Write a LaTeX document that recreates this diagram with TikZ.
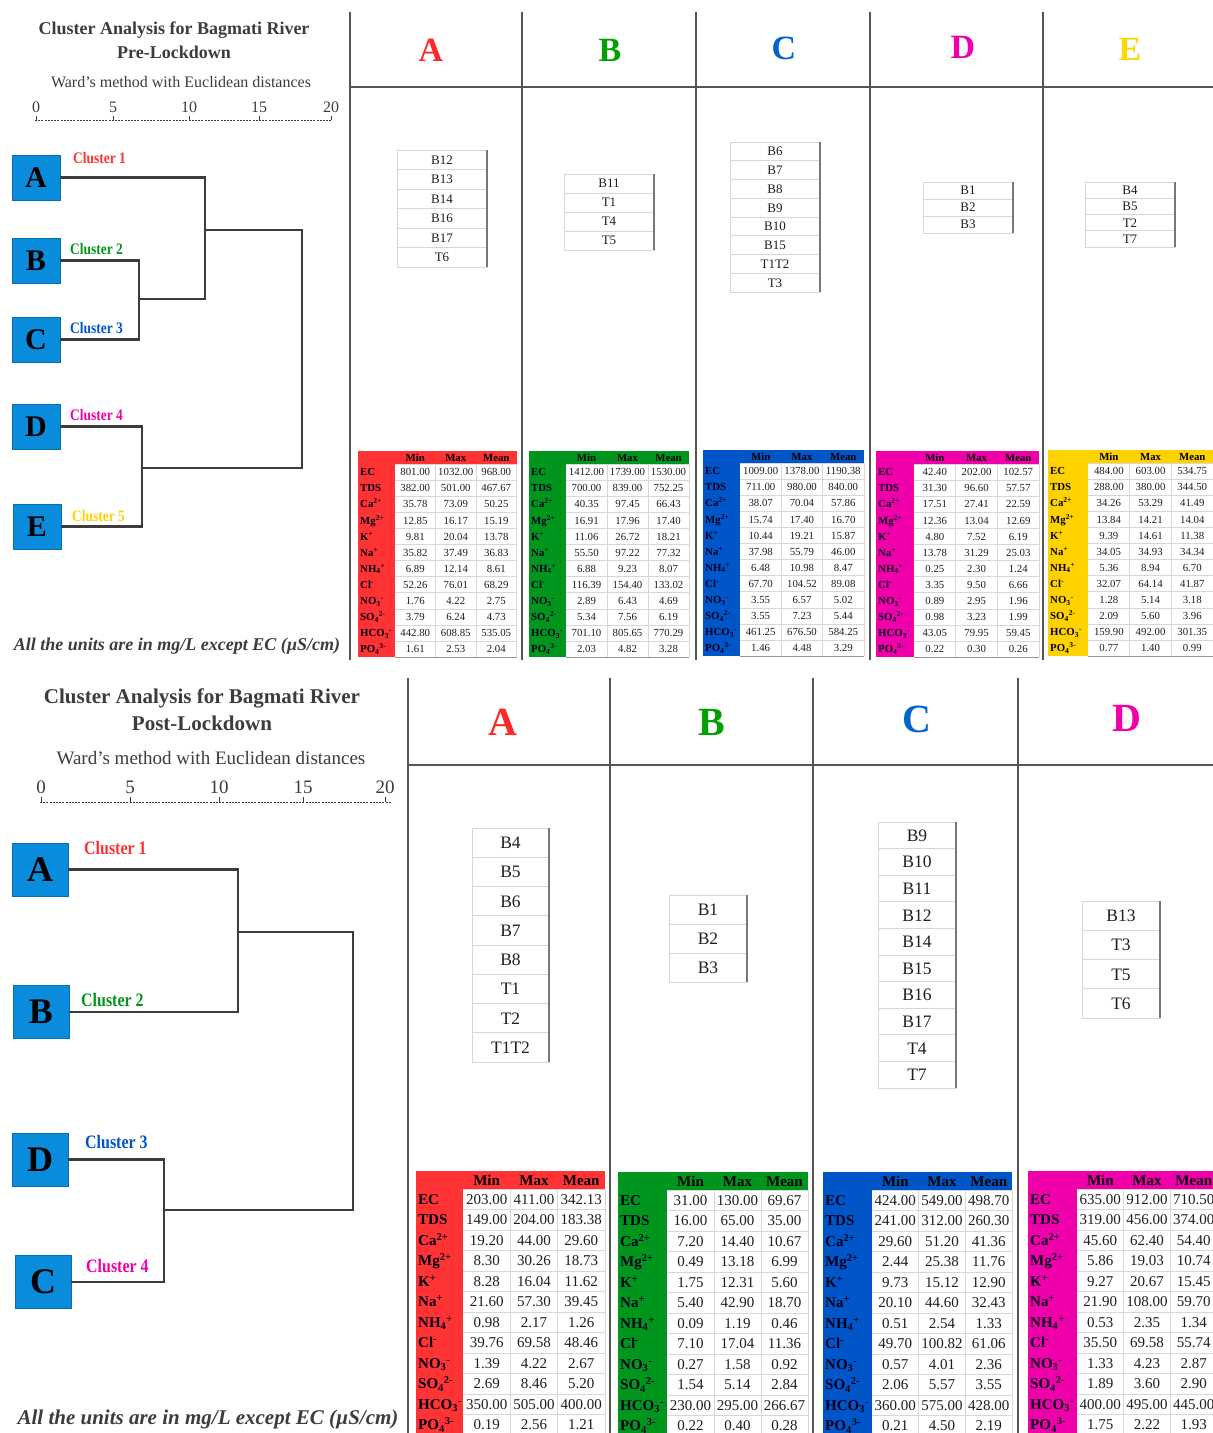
\documentclass[tikz,border=0pt]{standalone}
\usepackage{fontspec}
\setmainfont{Liberation Serif}
\definecolor{cred}{RGB}{255,51,51}
\definecolor{cgreen}{RGB}{0,150,30}
\definecolor{cblue}{RGB}{0,85,200}
\definecolor{cmag}{RGB}{240,0,170}
\definecolor{cyel}{RGB}{255,210,0}
\definecolor{lred}{RGB}{255,40,40}
\definecolor{lgreen}{RGB}{0,160,0}
\definecolor{lblue}{RGB}{0,102,204}
\definecolor{lmag}{RGB}{240,0,170}
\definecolor{lyel}{RGB}{255,215,0}
\definecolor{boxblue}{RGB}{10,140,220}
\definecolor{ink}{RGB}{60,60,60}
\definecolor{gridc}{RGB}{215,215,215}
\definecolor{divc}{RGB}{85,85,85}
\definecolor{txt}{RGB}{30,30,30}

\newcommand\ionlabel[1]{\ifcase#1\or EC\or TDS\or Ca\textsuperscript{2+}\or Mg\textsuperscript{2+}\or K\textsuperscript{+}\or Na\textsuperscript{+}\or NH\textsubscript{4}\textsuperscript{+}\or Cl\textsuperscript{-}\or NO\textsubscript{3}\textsuperscript{-}\or SO\textsubscript{4}\textsuperscript{2-}\or HCO\textsubscript{3}\textsuperscript{-}\or PO\textsubscript{4}\textsuperscript{3-}\fi}

% #1 x, #2 y, #3 label col width, #4 col width, #5 header h, #6 row h, #7 colour, #8 font size, #9 rows
\newcommand\datatable[9]{%
\begin{scope}[shift={(#1,#2)}]
\fill[#7] (0,0) rectangle ({#3+3*#4},#5);
\fill[#7] (0,#5) rectangle (#3,{#5+12*#6});
\foreach \k in {0,...,12} \draw[gridc,line width=0.8pt] (#3,{#5+\k*#6}) -- ({#3+3*#4},{#5+\k*#6});
\foreach \k in {1,2,3} \draw[gridc,line width=0.8pt] ({#3+\k*#4},#5) -- ({#3+\k*#4},{#5+12*#6});
\draw[gridc!70!black,line width=0.8pt] (#3,{#5+12*#6}) -- ({#3+3*#4},{#5+12*#6});
\node[hdr,font=\fontsize{#8}{#8}\selectfont\bfseries] at ({#3+0.5*#4},{0.5*#5+0.34*#8}) {Min};
\node[hdr,font=\fontsize{#8}{#8}\selectfont\bfseries] at ({#3+1.5*#4},{0.5*#5+0.34*#8}) {Max};
\node[hdr,font=\fontsize{#8}{#8}\selectfont\bfseries] at ({#3+2.5*#4},{0.5*#5+0.34*#8}) {Mean};
\foreach \a/\b/\c [count=\i] in {#9}{
 \node[lab,font=\fontsize{#8}{#8}\selectfont\bfseries] at (2,{#5+(\i-0.5)*#6+0.34*#8}) {\ionlabel{\i}};
 \node[cellv,font=\fontsize{#8}{#8}\selectfont] at ({#3+0.5*#4},{#5+(\i-0.5)*#6+0.34*#8}) {\a};
 \node[cellv,font=\fontsize{#8}{#8}\selectfont] at ({#3+1.5*#4},{#5+(\i-0.5)*#6+0.34*#8}) {\b};
 \node[cellv,font=\fontsize{#8}{#8}\selectfont] at ({#3+2.5*#4},{#5+(\i-0.5)*#6+0.34*#8}) {\c};
}
\end{scope}}

% #1 x, #2 y, #3 width, #4 row h, #5 font size, #6 count, #7 items
\newcommand\stationlist[7]{%
\foreach \s [count=\i] in {#7}{
 \draw[gridc,line width=0.8pt] (#1,{#2+(\i-1)*#4}) rectangle ({#1+#3},{#2+\i*#4});
 \node[cellv,font=\fontsize{#5}{#5}\selectfont] at ({#1+0.5*#3},{#2+(\i-0.5)*#4+0.34*#5}) {\s};
}
\draw[divc!80,line width=1.3pt] ({#1+#3},#2) -- ({#1+#3},{#2+#6*#4});
}

\tikzset{
 hdr/.style={anchor=base,inner sep=0pt,text=black},
 lab/.style={anchor=base west,inner sep=0pt,text=black!90!blue},
 cellv/.style={anchor=base,inner sep=0pt,text=txt},
 dend/.style={draw=ink,line width=2.2pt},
 divider/.style={draw=divc,line width=1.8pt},
 clbox/.style={fill=boxblue,draw=boxblue!80!black,line width=0.4pt,inner sep=0pt,text=black},
 scaleline/.style={draw=ink,line width=1pt,dash pattern=on 2pt off 1.2pt},
 tick/.style={draw=ink,line width=0.8pt},
}

\begin{document}
\begin{tikzpicture}[x=1pt,y=-1pt]
\clip (0,0) rectangle (1213,1433);
\fill[white] (0,0) rectangle (1213,1433);

% ================= TOP PANEL =================
\node[font=\fontsize{18}{18}\selectfont\bfseries,text=ink] (t1) at (174,30) {Cluster Analysis for Bagmati River};
\node[font=\fontsize{18}{18}\selectfont\bfseries,text=ink] (t2) at (174,52) {Pre-Lockdown};
\node[font=\fontsize{16}{16}\selectfont,text=ink] (t3) at (181,82) {Ward’s method with Euclidean distances};
\foreach \v/\px in {0/36,5/113,10/189,15/259,20/331}{
 \node[font=\fontsize{16}{16}\selectfont,text=ink] (sc\v) at (\px,107) {\v};
 \draw[tick] (\px,120) -- (\px,116);
}
\draw[scaleline] (35,120) -- (332,120);

\node[clbox,minimum width=48pt,minimum height=45pt,font=\fontsize{30}{30}\selectfont\bfseries] (bA) at (36,177.5) {A};
\node[clbox,minimum width=48pt,minimum height=45pt,font=\fontsize{30}{30}\selectfont\bfseries] (bB) at (36,260.5) {B};
\node[clbox,minimum width=48pt,minimum height=45pt,font=\fontsize{30}{30}\selectfont\bfseries] (bC) at (36,339.5) {C};
\node[clbox,minimum width=48pt,minimum height=45pt,font=\fontsize{30}{30}\selectfont\bfseries] (bD) at (36,426.5) {D};
\node[clbox,minimum width=48pt,minimum height=45pt,font=\fontsize{30}{30}\selectfont\bfseries] (bE) at (37,526.5) {E};

\node[anchor=west,inner sep=0pt,text=cred,font=\fontsize{16}{16}\selectfont\bfseries] (c1) at (73,158) {\scalebox{0.84}[1]{Cluster 1}};
\node[anchor=west,inner sep=0pt,text=cgreen,font=\fontsize{16}{16}\selectfont\bfseries] (c2) at (70,249) {\scalebox{0.84}[1]{Cluster 2}};
\node[anchor=west,inner sep=0pt,text=cblue,font=\fontsize{16}{16}\selectfont\bfseries] (c3) at (70,328) {\scalebox{0.84}[1]{Cluster 3}};
\node[anchor=west,inner sep=0pt,text=cmag,font=\fontsize{16}{16}\selectfont\bfseries] (c4) at (70,415) {\scalebox{0.84}[1]{Cluster 4}};
\node[anchor=west,inner sep=0pt,text=cyel,font=\fontsize{16}{16}\selectfont\bfseries] (c5) at (72,516) {\scalebox{0.84}[1]{Cluster 5}};

\coordinate (jBC) at (139,299);
\coordinate (kA) at (205,299);
\coordinate (jABC) at (205,230);
\coordinate (jDE) at (142,468);
\coordinate (kR) at (302,468);
\draw[dend] (bB.east) -| (jBC) |- (bC.east);
\draw[dend] (bA.east) -| (kA) -- (jBC);
\draw[dend] (bD.east) -| (jDE) |- (bE.east);
\draw[dend] (jABC) -| (kR) -- (jDE);

\node[font=\fontsize{18}{18}\selectfont\bfseries\itshape,text=ink] (f1) at (177,646) {All the units are in mg/L except EC (µS/cm)};

% dividers
\draw[divider] (350,12) -- (350,660);
\foreach \dx in {522,696,870,1043} \draw[divider] (\dx,12) -- (\dx,660);
\draw[divider] (350,87) -- (1213,87);

\node[font=\fontsize{34}{34}\selectfont\bfseries,text=lred] (hA) at (431,50) {A};
\node[font=\fontsize{34}{34}\selectfont\bfseries,text=lgreen] (hB) at (610,50) {B};
\node[font=\fontsize{34}{34}\selectfont\bfseries,text=lblue] (hC) at (784,48) {C};
\node[font=\fontsize{34}{34}\selectfont\bfseries,text=lmag] (hD) at (963,47) {D};
\node[font=\fontsize{34}{34}\selectfont\bfseries,text=lyel] (hE) at (1130,49) {E};

\stationlist{397}{150}{90}{19.5}{13}{6}{B12,B13,B14,B16,B17,T6}
\stationlist{564}{174}{90}{19}{13}{4}{B11,T1,T4,T5}
\stationlist{730}{142}{90}{18.75}{13}{8}{B6,B7,B8,B9,B10,B15,T1T2,T3}
\stationlist{923}{182}{90}{17}{13}{3}{B1,B2,B3}
\stationlist{1085}{182}{90}{16.25}{13}{4}{B4,B5,T2,T7}

\datatable{358}{451}{37}{40.5}{13}{16.1}{cred}{10.8}{801.00/1032.00/968.00, 382.00/501.00/467.67, 35.78/73.09/50.25, 12.85/16.17/15.19, 9.81/20.04/13.78, 35.82/37.49/36.83, 6.89/12.14/8.61, 52.26/76.01/68.29, 1.76/4.22/2.75, 3.79/6.24/4.73, 442.80/608.85/535.05, 1.61/2.53/2.04}
\datatable{529}{451}{37}{41}{13}{16.1}{cgreen}{10.8}{1412.00/1739.00/1530.00, 700.00/839.00/752.25, 40.35/97.45/66.43, 16.91/17.96/17.40, 11.06/26.72/18.21, 55.50/97.22/77.32, 6.88/9.23/8.07, 116.39/154.40/133.02, 2.89/6.43/4.69, 5.34/7.56/6.19, 701.10/805.65/770.29, 2.03/4.82/3.28}
\datatable{703}{450}{37}{41.3}{13}{16.1}{cblue}{10.8}{1009.00/1378.00/1190.38, 711.00/980.00/840.00, 38.07/70.04/57.86, 15.74/17.40/16.70, 10.44/19.21/15.87, 37.98/55.79/46.00, 6.48/10.98/8.47, 67.70/104.52/89.08, 3.55/6.57/5.02, 3.55/7.23/5.44, 461.25/676.50/584.25, 1.46/4.48/3.29}
\datatable{876}{451}{38}{41.7}{13}{16.1}{cmag}{10.8}{42.40/202.00/102.57, 31.30/96.60/57.57, 17.51/27.41/22.59, 12.36/13.04/12.69, 4.80/7.52/6.19, 13.78/31.29/25.03, 0.25/2.30/1.24, 3.35/9.50/6.66, 0.89/2.95/1.96, 0.98/3.23/1.99, 43.05/79.95/59.45, 0.22/0.30/0.26}
\datatable{1048}{450}{40}{41.7}{13}{16.1}{cyel}{10.8}{484.00/603.00/534.75, 288.00/380.00/344.50, 34.26/53.29/41.49, 13.84/14.21/14.04, 9.39/14.61/11.38, 34.05/34.93/34.34, 5.36/8.94/6.70, 32.07/64.14/41.87, 1.28/5.14/3.18, 2.09/5.60/3.96, 159.90/492.00/301.35, 0.77/1.40/0.99}

% ================= BOTTOM PANEL =================
\node[font=\fontsize{21}{21}\selectfont\bfseries,text=ink] (u1) at (202,698) {Cluster Analysis for Bagmati River};
\node[font=\fontsize{21}{21}\selectfont\bfseries,text=ink] (u2) at (202,723) {Post-Lockdown};
\node[font=\fontsize{19}{19}\selectfont,text=ink] (u3) at (211,758) {Ward’s method with Euclidean distances};
\foreach \v/\px in {0/41,5/130,10/219,15/303,20/385}{
 \node[font=\fontsize{19}{19}\selectfont,text=ink] (sd\v) at (\px,787) {\v};
 \draw[tick] (\px,802) -- (\px,797);
}
\draw[scaleline] (40,802) -- (392,802);

\node[clbox,minimum width=56pt,minimum height=53pt,font=\fontsize{36}{36}\selectfont\bfseries] (dA) at (40,869.5) {A};
\node[clbox,minimum width=56pt,minimum height=53pt,font=\fontsize{36}{36}\selectfont\bfseries] (dB) at (41,1012) {B};
\node[clbox,minimum width=56pt,minimum height=53pt,font=\fontsize{36}{36}\selectfont\bfseries] (dD) at (40,1159.5) {D};
\node[clbox,minimum width=56pt,minimum height=53pt,font=\fontsize{36}{36}\selectfont\bfseries] (dC) at (43,1282) {C};

\node[anchor=west,inner sep=0pt,text=cred,font=\fontsize{19}{19}\selectfont\bfseries] (e1) at (84,848) {\scalebox{0.84}[1]{Cluster 1}};
\node[anchor=west,inner sep=0pt,text=cgreen,font=\fontsize{19}{19}\selectfont\bfseries] (e2) at (81,1000) {\scalebox{0.84}[1]{Cluster 2}};
\node[anchor=west,inner sep=0pt,text=cblue,font=\fontsize{19}{19}\selectfont\bfseries] (e3) at (85,1142) {\scalebox{0.84}[1]{Cluster 3}};
\node[anchor=west,inner sep=0pt,text=cmag,font=\fontsize{19}{19}\selectfont\bfseries] (e4) at (86,1266) {\scalebox{0.84}[1]{Cluster 4}};

\coordinate (jAB2) at (238,932);
\coordinate (jDC2) at (164,1210);
\coordinate (kR2) at (353,1210);
\draw[dend] (dA.east) -| (jAB2) |- (dB.east);
\draw[dend] (dD.east) -| (jDC2) |- (dC.east);
\draw[dend] (jAB2) -| (kR2) -- (jDC2);

\node[font=\fontsize{21}{21}\selectfont\bfseries\itshape,text=ink] (f2) at (208,1419) {All the units are in mg/L except EC (µS/cm)};

\draw[divider] (408,678) -- (408,1433);
\foreach \dx in {610,813,1018} \draw[divider] (\dx,678) -- (\dx,1433);
\draw[divider] (408,765) -- (1213,765);

\node[font=\fontsize{40}{40}\selectfont\bfseries,text=lred] (gA) at (503,722) {A};
\node[font=\fontsize{40}{40}\selectfont\bfseries,text=lgreen] (gB) at (712,722) {B};
\node[font=\fontsize{40}{40}\selectfont\bfseries,text=lblue] (gC) at (917,719) {C};
\node[font=\fontsize{40}{40}\selectfont\bfseries,text=lmag] (gD) at (1127,718) {D};

\stationlist{472}{828}{77}{29.25}{17.5}{8}{B4,B5,B6,B7,B8,T1,T2,T1T2}
\stationlist{669}{895}{78}{29}{17.5}{3}{B1,B2,B3}
\stationlist{878}{822}{78}{26.6}{17.5}{10}{B9,B10,B11,B12,B14,B15,B16,B17,T4,T7}
\stationlist{1082}{901}{78}{29.25}{17.5}{4}{B13,T3,T5,T6}

\datatable{416}{1171}{47}{47.3}{18}{20.5}{cred}{15}{203.00/411.00/342.13, 149.00/204.00/183.38, 19.20/44.00/29.60, 8.30/30.26/18.73, 8.28/16.04/11.62, 21.60/57.30/39.45, 0.98/2.17/1.26, 39.76/69.58/48.46, 1.39/4.22/2.67, 2.69/8.46/5.20, 350.00/505.00/400.00, 0.19/2.56/1.21}
\datatable{618}{1172}{49}{47}{18}{20.5}{cgreen}{15}{31.00/130.00/69.67, 16.00/65.00/35.00, 7.20/14.40/10.67, 0.49/13.18/6.99, 1.75/12.31/5.60, 5.40/42.90/18.70, 0.09/1.19/0.46, 7.10/17.04/11.36, 0.27/1.58/0.92, 1.54/5.14/2.84, 230.00/295.00/266.67, 0.22/0.40/0.28}
\datatable{823}{1172}{49}{46.7}{18}{20.5}{cblue}{15}{424.00/549.00/498.70, 241.00/312.00/260.30, 29.60/51.20/41.36, 2.44/25.38/11.76, 9.73/15.12/12.90, 20.10/44.60/32.43, 0.51/2.54/1.33, 49.70/100.82/61.06, 0.57/4.01/2.36, 2.06/5.57/3.55, 360.00/575.00/428.00, 0.21/4.50/2.19}
\datatable{1028}{1171}{49}{46.7}{18}{20.5}{cmag}{15}{635.00/912.00/710.50, 319.00/456.00/374.00, 45.60/62.40/54.40, 5.86/19.03/10.74, 9.27/20.67/15.45, 21.90/108.00/59.70, 0.53/2.35/1.34, 35.50/69.58/55.74, 1.33/4.23/2.87, 1.89/3.60/2.90, 400.00/495.00/445.00, 1.75/2.22/1.93}
\end{tikzpicture}
\end{document}
